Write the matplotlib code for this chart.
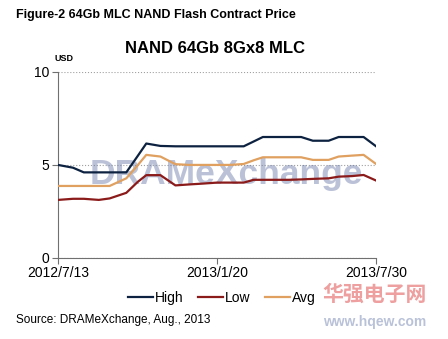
import numpy as np
import pandas as pd
import matplotlib
matplotlib.use("Agg")
from matplotlib import pyplot as plt
import matplotlib.dates as mdates

plt.rcParams['font.family'] = ['Liberation Sans', 'Noto Sans CJK SC', 'DejaVu Sans']

dates = pd.to_datetime([
    "2012-07-13", "2012-07-31", "2012-08-13", "2012-08-31", "2012-09-13",
    "2012-10-03", "2012-10-17", "2012-10-27", "2012-11-13", "2012-12-01",
    "2012-12-17", "2013-01-04", "2013-01-20", "2013-02-05", "2013-02-21",
    "2013-03-05", "2013-03-16", "2013-04-02", "2013-04-16", "2013-05-01",
    "2013-05-15", "2013-06-03", "2013-06-15", "2013-07-01", "2013-07-15",
    "2013-07-30"])
high = [5.0, 4.85, 4.6, 4.6, 4.6, 4.6, 5.5, 6.15, 6.02, 6.0, 6.0, 6.0, 6.0,
        6.0, 6.0, 6.26, 6.5, 6.5, 6.5, 6.5, 6.3, 6.3, 6.5, 6.5, 6.5, 6.0]
low = [3.12, 3.18, 3.18, 3.12, 3.2, 3.5, 4.1, 4.45, 4.45, 3.9, 3.95, 4.0, 4.05,
       4.05, 4.05, 4.2, 4.2, 4.2, 4.2, 4.22, 4.25, 4.28, 4.37, 4.4, 4.46, 4.16]
avg = [3.87, 3.87, 3.87, 3.87, 3.87, 4.28, 5.0, 5.54, 5.45, 5.04, 5.0, 5.0, 5.0,
       5.0, 5.05, 5.25, 5.41, 5.41, 5.41, 5.41, 5.27, 5.27, 5.45, 5.5, 5.54, 5.05]
tick_dates = pd.to_datetime(["2012-07-13", "2013-01-20", "2013-07-30"])
tick_labels = ["2012/7/13", "2013/1/20", "2013/7/30"]

fig = plt.figure(figsize=(4.48, 3.39), dpi=100)
ax = fig.add_axes([0.1295, 0.239, 0.71, 0.549])

# watermark
ax.text(0.53, 0.45, "DRAMeXchange", transform=ax.transAxes, fontsize=25.5,
        fontweight='bold', color='#6a78a8', alpha=0.45, ha='center',
        va='center', zorder=1)

ax.plot(dates, high, color='#0d2240', lw=1.6, label='High', zorder=3)
ax.plot(dates, low, color='#8b1a1a', lw=1.6, label='Low', zorder=3)
ax.plot(dates, avg, color='#dfa060', lw=1.6, label='Avg', zorder=3)

ax.set_ylim(0, 10)
ax.set_yticks([0, 5, 10])
ax.set_xlim(tick_dates[0], tick_dates[-1])
ax.set_xticks(tick_dates)
ax.set_xticklabels(tick_labels)
ax.tick_params(labelsize=10, color='#707070', length=4, pad=2)
for s in ['top', 'right']:
    ax.spines[s].set_visible(False)
for s in ['left', 'bottom']:
    ax.spines[s].set_color('#707070')
ax.yaxis.grid(True, linestyle=':', color='#a0a0a0', lw=0.8)
ax.set_axisbelow(True)

ax.legend(loc='upper center', bbox_to_anchor=(0.515, -0.11), ncol=3,
          frameon=False, fontsize=10, handlelength=1.8, handletextpad=0.1,
          columnspacing=1.1)

fig.text(0.036, 0.955, "Figure-2 64Gb MLC NAND Flash Contract Price",
         fontsize=9, fontweight='bold', va='center')
fig.text(0.48, 0.858, "NAND 64Gb 8Gx8 MLC", fontsize=12, fontweight='bold',
         ha='center', va='center')
fig.text(0.122, 0.826, "USD", fontsize=6.5, fontweight='bold', va='center')
fig.text(0.036, 0.055, "Source: DRAMeXchange, Aug., 2013", fontsize=8.5,
         va='center')

# site watermark
fig.text(0.72, 0.13, "华强电子网", fontsize=15, fontweight='bold',
         color='#e05050', alpha=0.55, va='center')
fig.text(0.72, 0.05, "www.hqew.com", fontsize=10, fontweight='bold',
         color='#8090b8', alpha=0.55, va='center')

fig.savefig("out.png", dpi=100)
